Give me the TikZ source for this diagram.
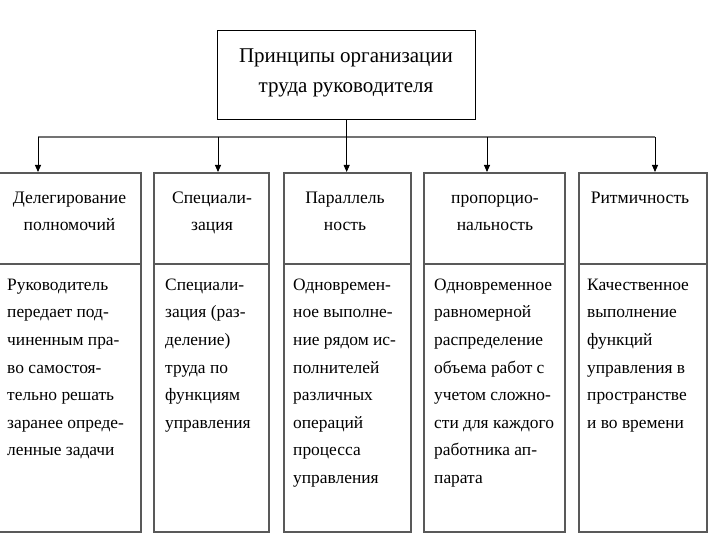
\documentclass[tikz,border=0pt]{standalone}
\usepackage{fontspec}
\setmainfont{Liberation Serif}
\usetikzlibrary{arrows.meta}
\begin{document}
\begin{tikzpicture}[x=1pt,y=-1pt,
  titlebox/.style={draw=black, line width=1.3pt, minimum width=258pt, minimum height=89pt, inner sep=0pt, anchor=north west},
  titletext/.style={font=\fontsize{21}{30}\selectfont, align=center, anchor=north, inner sep=0pt},
  hdrbox/.style={draw=black!65, line width=1.6pt, inner sep=0pt, anchor=north west, minimum height=91pt},
  bodybox/.style={draw=black!65, line width=1.6pt, inner sep=0pt, anchor=north west, minimum height=268pt},
  hdrtext/.style={font=\fontsize{17.6}{27}\selectfont, align=center, anchor=north, inner sep=0pt},
  bodytext/.style={font=\fontsize{17.4}{27.6}\selectfont, align=left, anchor=north west, inner sep=0pt},
  bus/.style={draw=black!55, line width=2pt},
  arr/.style={draw=black, line width=0.9pt, -{Triangle[width=6pt,length=7pt]}}
]
\useasboundingbox[fill=white] (0,0) rectangle (720,540);

\node[titlebox] (title) at (217,30) {};
% baseline 62 -> top 62 - 0.7*30
\node[titletext] (tt) at (346,41) {\strut Принципы организации\\труда руководителя};

% columns
\node[hdrbox, minimum width=143pt] (h1) at (-3,172) {};
\node[bodybox, minimum width=143pt] (b1) at (-3,263) {};
\node[hdrbox, minimum width=115pt] (h2) at (153,172) {};
\node[bodybox, minimum width=115pt] (b2) at (153,263) {};
\node[hdrbox, minimum width=127pt] (h3) at (283,172) {};
\node[bodybox, minimum width=127pt] (b3) at (283,263) {};
\node[hdrbox, minimum width=141pt] (h4) at (423,172) {};
\node[bodybox, minimum width=141pt] (b4) at (423,263) {};
\node[hdrbox, minimum width=128pt] (h5) at (578,172) {};
\node[bodybox, minimum width=128pt] (b5) at (578,263) {};

% header texts (first baseline at 203)
\node[hdrtext] (t1) at (69.5,184.1) {\strut Делегирование\\полномочий};
\node[hdrtext] (t2) at (212,184.1) {\strut Специали-\\зация};
\node[hdrtext] (t3) at (345,184.1) {\strut Параллель\\ность};
\node[hdrtext] (t4) at (495,184.1) {\strut пропорцио-\\нальность};
\node[hdrtext] (t5) at (640,184.1) {\strut Ритмичность};

% body texts (first baseline at 290)
\node[bodytext] (d1) at (7,270.7) {\strut Руководитель\\передает под-\\чиненным пра-\\во самостоя-\\тельно решать\\заранее опреде-\\ленные задачи};
\node[bodytext] (d2) at (165,270.7) {\strut Специали-\\зация (раз-\\деление)\\труда по\\функциям\\управления};
\node[bodytext] (d3) at (293,270.7) {\strut Одновремен-\\ное выполне-\\ние рядом ис-\\полнителей\\различных\\операций\\процесса\\управления};
\node[bodytext] (d4) at (434,270.7) {\strut Одновременное\\равномерной\\распределение\\объема работ с\\учетом сложно-\\сти для каждого\\работника ап-\\парата};
\node[bodytext] (d5) at (587,270.7) {\strut Качественное\\выполнение\\функций\\управления в\\пространстве\\и во времени};

% bus and arrows
\coordinate (c1) at (38,137);
\coordinate (c2) at (218,137);
\coordinate (c4) at (487,137);
\coordinate (c5) at (655,137);
\draw[bus] (c1) -- (c5);
\draw[arr] (title.south) -- (title.south |- h3.north);
\draw[arr] (c1) -- (c1 |- h1.north);
\draw[arr] (c2) -- (c2 |- h2.north);
\draw[arr] (c4) -- (c4 |- h4.north);
\draw[arr] (c5) -- (c5 |- h5.north);
\end{tikzpicture}
\end{document}
